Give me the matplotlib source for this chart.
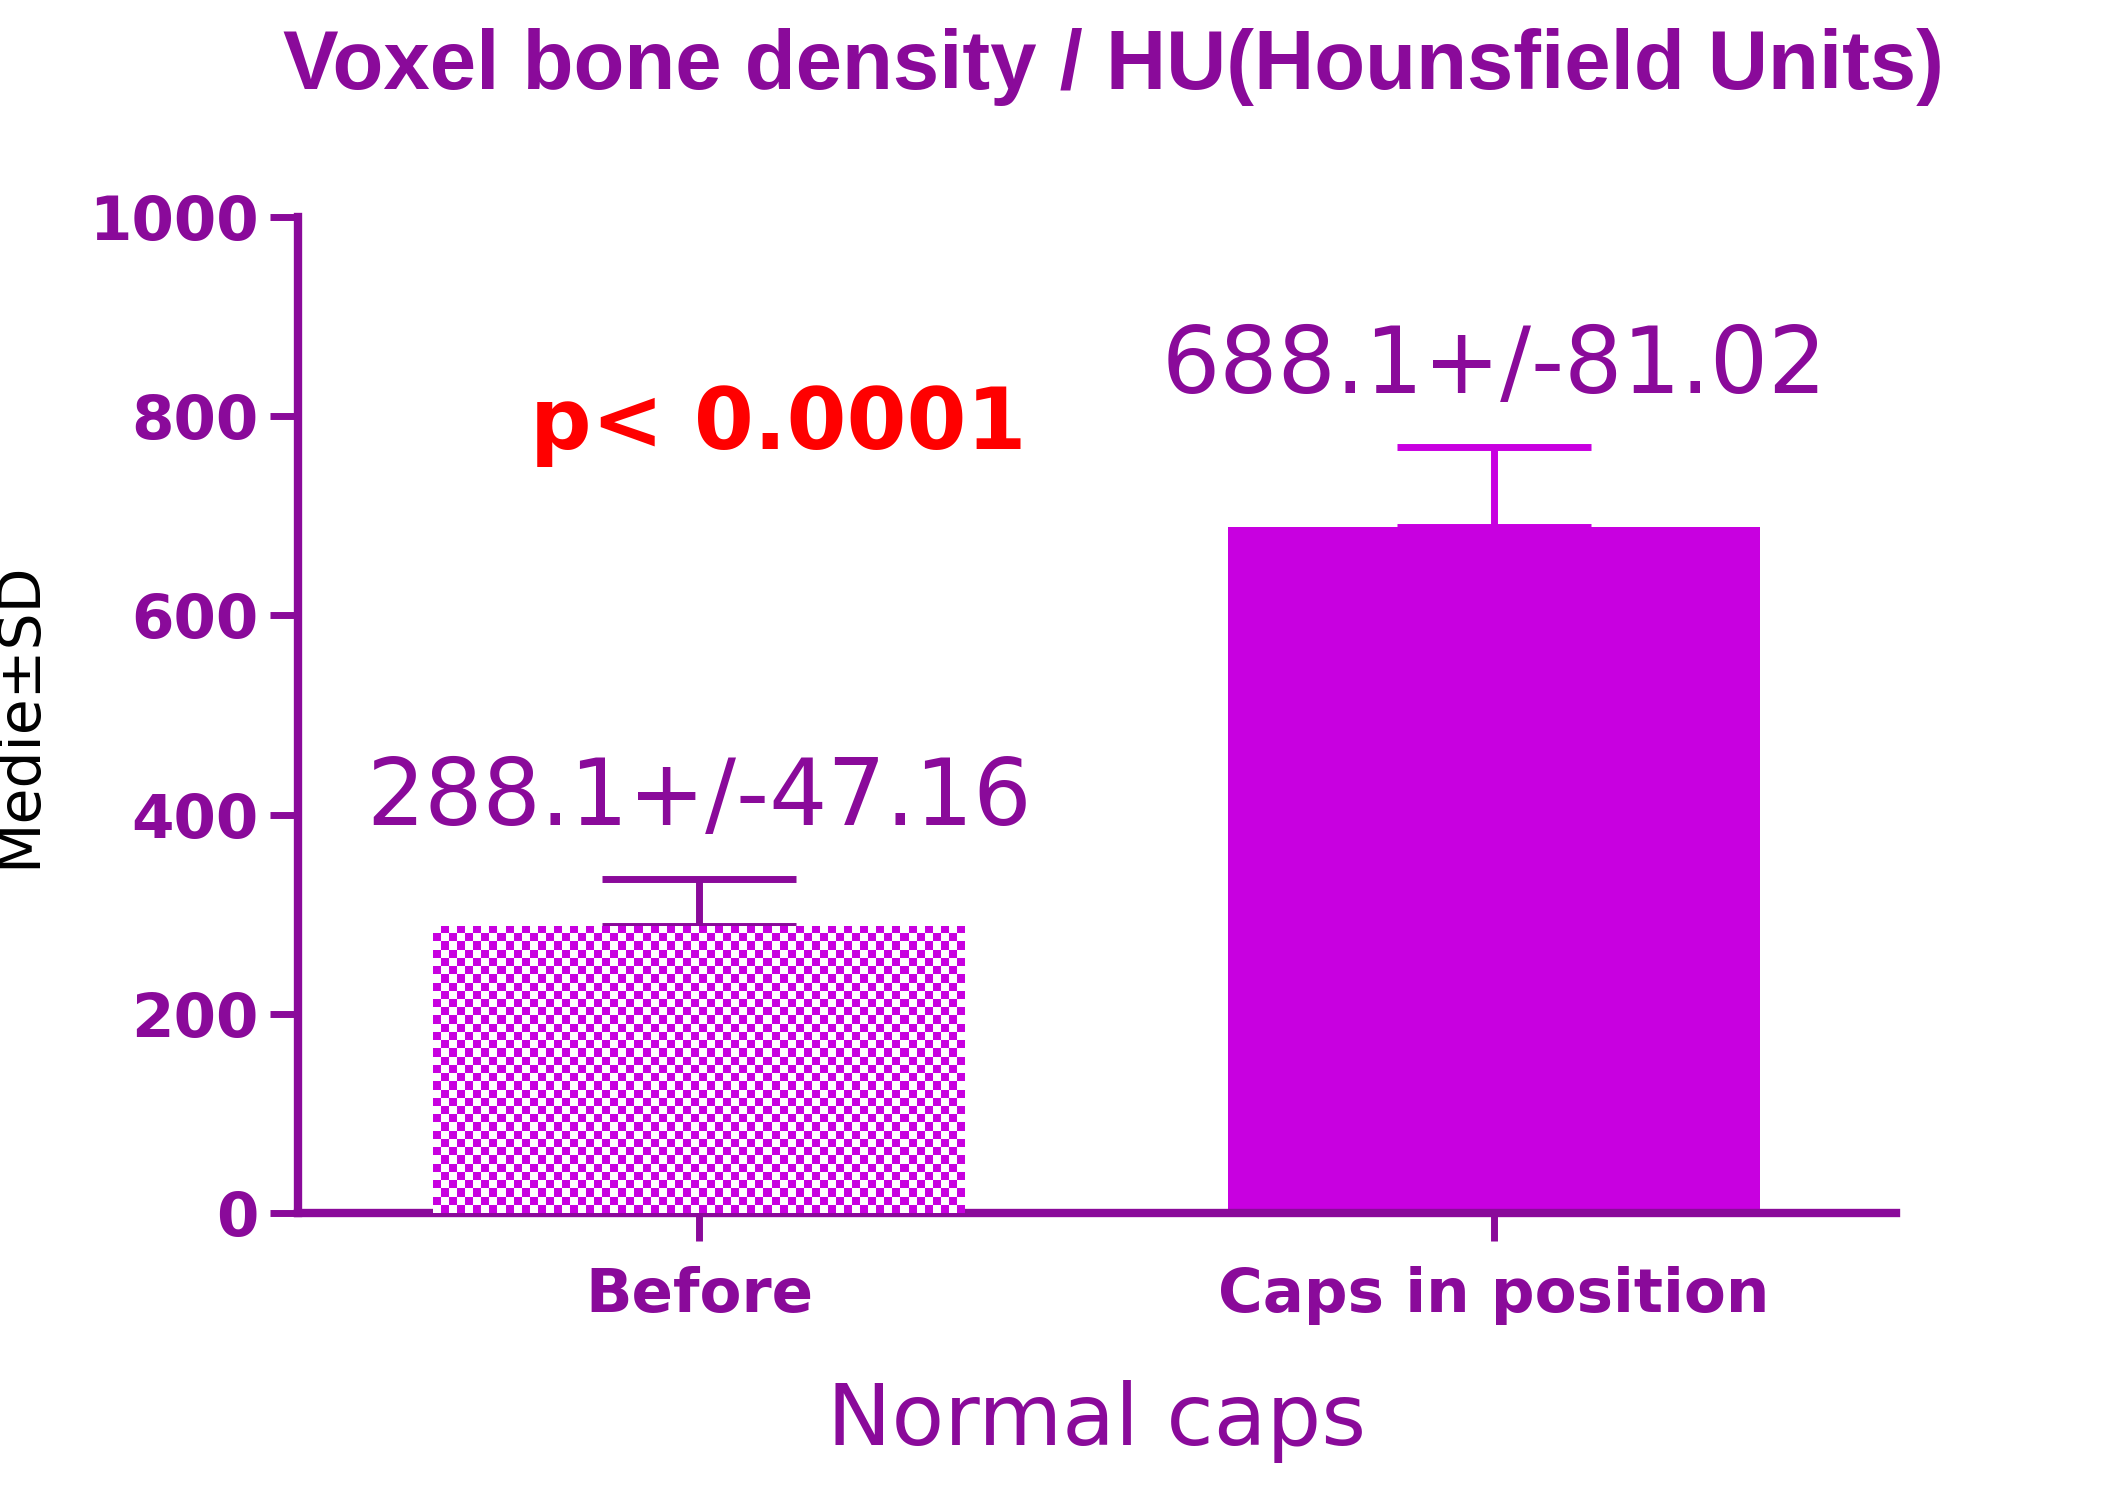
import matplotlib
matplotlib.use("Agg")
import matplotlib.pyplot as plt
import numpy as np

categories = ["Before", "Caps in position"]
means = [288.1, 688.1]
sds = [47.16, 81.02]
labels = ["288.1+/-47.16", "688.1+/-81.02"]
yticks = [0, 200, 400, 600, 800, 1000]

PURPLE = "#8A0A9A"
BAR = "#C800E0"
NARROW = ["Liberation Sans Narrow", "DejaVu Sans"]

fig = plt.figure(figsize=(21.25, 14.94), dpi=100)
ax = fig.add_axes([0.140, 0.188, 0.752, 0.667])
x = np.arange(len(categories))
w = 0.669
bars = ax.bar(x, means, width=w, color=[BAR, BAR], edgecolor=BAR, linewidth=0, zorder=2)
b0 = bars[0]
b0.set_facecolor("white")
n_x, n_y = 66, 35
checker = (np.add.outer(np.arange(n_y), np.arange(n_x)) % 2)
cmap = matplotlib.colors.ListedColormap(["white", BAR])
im = ax.imshow(checker, cmap=cmap, extent=[x[0]-w/2, x[0]+w/2, 0, means[0]],
               aspect="auto", interpolation="nearest", zorder=3)
im.set_clip_path(b0)
for xi, m, s, c in zip(x, means, sds, [PURPLE, BAR]):
    ax.errorbar([xi], [m], yerr=[[0], [s]], fmt="none", ecolor=c,
                elinewidth=5, capsize=70, capthick=5, zorder=1)

ax.set_xlim(-0.505, 1.505)
ax.set_ylim(0, 1000)
ax.set_yticks(yticks)
ax.set_xticks(x)
ax.set_xticklabels(categories)
for s in ["top", "right"]:
    ax.spines[s].set_visible(False)
for s in ["left", "bottom"]:
    ax.spines[s].set_color(PURPLE)
    ax.spines[s].set_linewidth(6)
ax.tick_params(colors=PURPLE, width=5, length=20, direction="out", pad=8)
for t in ax.get_xticklabels() + ax.get_yticklabels():
    t.set_family(NARROW); t.set_fontweight("bold"); t.set_fontsize(44); t.set_color(PURPLE)
ax.tick_params(axis="x", pad=18)

ax.set_ylabel("Medie±SD", family=NARROW, fontsize=42, color="black", labelpad=30)
ax.set_xlabel("Normal caps", family=NARROW, fontsize=62, color=PURPLE, labelpad=40)

for xi, m, s, lab in zip(x, means, sds, labels):
    ax.text(xi, m + s + 35, lab, ha="center", va="bottom", family=NARROW,
            fontsize=66, color=PURPLE)
ax.text(0.1, 790, "p< 0.0001", ha="center", va="center", family=NARROW,
        fontsize=62, fontweight="bold", color="red")

fig.text(0.524, 0.955, "Voxel bone density / HU(Hounsfield Units)", ha="center",
         va="center", family=["Liberation Sans", "DejaVu Sans"], fontsize=60,
         fontweight="bold", color=PURPLE)
fig.savefig("out.png", dpi=100, facecolor="white")
